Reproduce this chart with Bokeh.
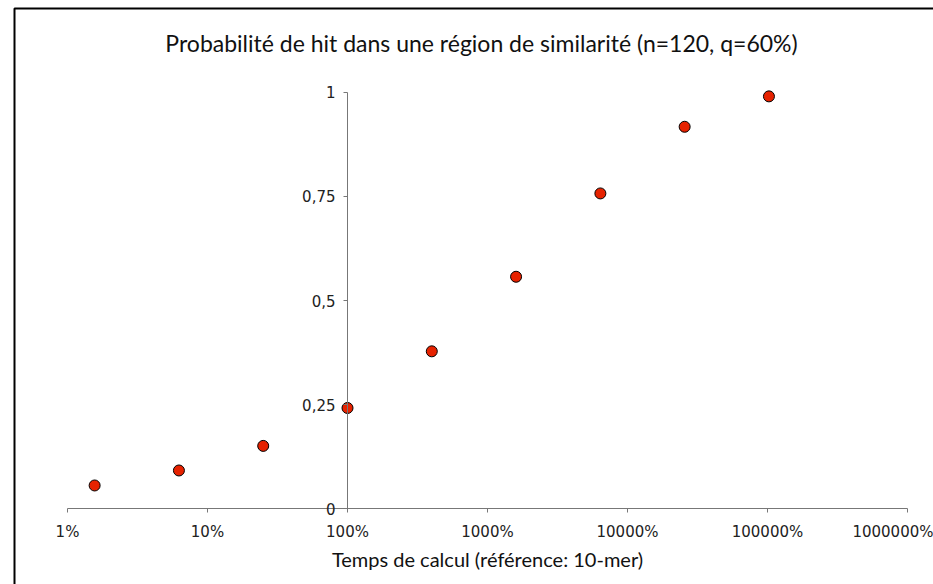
import math
from bokeh.plotting import figure
from bokeh.models import FixedTicker, BoxAnnotation, Label, ColumnDataSource
from bokeh.embed import file_html
from bokeh.resources import INLINE

# Data: computing time relative to 10-mer reference (fraction, 1 = 100%) and hit probability
temps = [0.015625, 0.0625, 0.25, 1, 4, 16, 64, 256, 1024]
probabilite = [0.056, 0.092, 0.151, 0.242, 0.378, 0.557, 0.757, 0.917, 0.990]

x_ticks = [0.01, 0.1, 1, 10, 100, 1000, 10000]
x_tick_labels = ["1%", "10%", "100%", "1000%", "10000%", "100000%", "1000000%"]
y_ticks = [0, 0.25, 0.5, 0.75, 1]
y_tick_labels = ["0", "0,25", "0,5", "0,75", "1"]

title_text = "Probabilité de hit dans une région de similarité (n=120, q=60%)"
x_label = "Temps de calcul (référence: 10-mer)"

# Layout (pixels): where the axes sit inside the 933x584 canvas
W, H = 933, 584
ax_left_px, ax_right_px = 67.0, 907.0
ax_top_px, ax_bottom_px = 91.7, 508.3

lx0, lx1 = math.log10(x_ticks[0]), math.log10(x_ticks[-1])
ppd = (ax_right_px - ax_left_px) / (lx1 - lx0)
x_start = 10 ** (lx0 - ax_left_px / ppd)
x_end = 10 ** (lx1 + (W - ax_right_px) / ppd)
y0, y1 = y_ticks[0], y_ticks[-1]
ppu = (ax_bottom_px - ax_top_px) / (y1 - y0)
y_start = y0 - (H - ax_bottom_px) / ppu
y_end = y1 + ax_top_px / ppu

p = figure(width=W, height=H, x_axis_type="log",
           x_range=(x_start, x_end), y_range=(y_start, y_end),
           output_backend="svg", toolbar_location=None,
           min_border_left=0, min_border_right=0, min_border_top=0, min_border_bottom=0)
p.outline_line_color = None
p.grid.visible = False
p.background_fill_color = "white"
p.border_fill_color = "white"

axis_color = "#777777"
tick_font = "DejaVu Sans"

xa = p.xaxis[0]
xa.fixed_location = y0
xa.bounds = (x_ticks[0], x_ticks[-1])
xa.ticker = FixedTicker(ticks=x_ticks, minor_ticks=[])
xa.major_label_overrides = {t: l for t, l in zip(x_ticks, x_tick_labels)}
xa.axis_line_color = axis_color
xa.major_tick_line_color = axis_color
xa.major_tick_out = 4
xa.major_tick_in = 0
xa.minor_tick_line_color = None
xa.major_label_text_font = tick_font
xa.major_label_text_font_size = "15px"
xa.major_label_text_color = "#222222"
xa.major_label_standoff = 10
xa.axis_label = x_label
xa.axis_label_text_font = "Lato"
xa.axis_label_text_font_size = "20px"
xa.axis_label_text_font_style = "normal"
xa.axis_label_text_color = "#111111"
xa.axis_label_standoff = 3

ya = p.yaxis[0]
ya.fixed_location = 1
ya.bounds = (y0, y1)
ya.ticker = FixedTicker(ticks=y_ticks, minor_ticks=[])
ya.major_label_overrides = {t: l for t, l in zip(y_ticks, y_tick_labels)}
ya.axis_line_color = axis_color
ya.major_tick_line_color = axis_color
ya.major_tick_out = 4
ya.major_tick_in = 0
ya.minor_tick_line_color = None
ya.major_label_text_font = tick_font
ya.major_label_text_font_size = "15px"
ya.major_label_text_color = "#222222"
ya.major_label_standoff = 8

src = ColumnDataSource(dict(x=temps, y=probabilite))
p.scatter("x", "y", source=src, size=11, fill_color="#E62200", line_color="black", line_width=1)

title = Label(x=481, y=42, x_units="canvas", y_units="canvas", text=title_text,
              text_align="center", text_baseline="middle",
              text_font="Lato", text_font_size="23px", text_color="#111111")
p.add_layout(title)

# chart-area border (left and top edges visible; right/bottom fall outside the picture)
border = BoxAnnotation(left=14, right=W + 60, top=8, bottom=H + 60,
                       left_units="canvas", right_units="canvas",
                       top_units="canvas", bottom_units="canvas",
                       fill_color=None, fill_alpha=0,
                       line_color="black", line_alpha=1.0, line_width=2)
p.add_layout(border)

open("out.html", "w").write(file_html(p, INLINE))
